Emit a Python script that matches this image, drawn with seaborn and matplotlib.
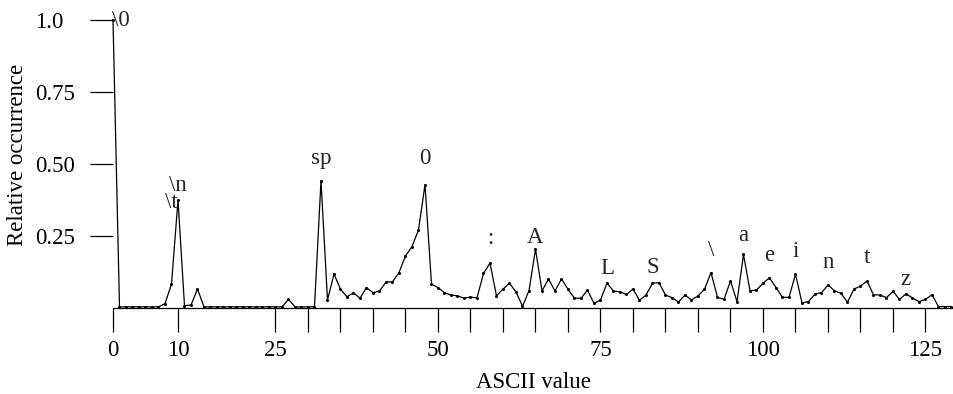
import matplotlib
matplotlib.use("Agg")
import matplotlib.pyplot as plt
import seaborn as sns
import pandas as pd

# ---- data -------------------------------------------------------------
ascii_codes = list(range(130))
rel_occurrence = [
    1.000, 0.004, 0.004, 0.004, 0.004, 0.004, 0.004, 0.004, 0.015, 0.083,  # 0-9
    0.375, 0.008, 0.010, 0.066, 0.004, 0.004, 0.004, 0.004, 0.004, 0.004,  # 10-19
    0.004, 0.004, 0.004, 0.004, 0.004, 0.004, 0.004, 0.030, 0.004, 0.004,  # 20-29
    0.004, 0.004, 0.442, 0.028, 0.118, 0.065, 0.039, 0.053, 0.034, 0.071,  # 30-39
    0.053, 0.059, 0.090, 0.091, 0.123, 0.181, 0.213, 0.271, 0.428, 0.083,  # 40-49
    0.071, 0.053, 0.045, 0.042, 0.034, 0.038, 0.035, 0.120, 0.156, 0.042,  # 50-59
    0.066, 0.086, 0.056, 0.006, 0.060, 0.204, 0.059, 0.101, 0.059, 0.101,  # 60-69
    0.065, 0.034, 0.034, 0.062, 0.016, 0.028, 0.086, 0.059, 0.056, 0.047,  # 70-79
    0.066, 0.027, 0.045, 0.086, 0.088, 0.045, 0.036, 0.021, 0.045, 0.028,  # 80-89
    0.042, 0.065, 0.123, 0.037, 0.030, 0.094, 0.022, 0.186, 0.060, 0.062,  # 90-99
    0.086, 0.105, 0.071, 0.037, 0.037, 0.117, 0.018, 0.022, 0.049, 0.053,  # 100-109
    0.080, 0.060, 0.051, 0.020, 0.066, 0.076, 0.093, 0.046, 0.045, 0.036,  # 110-119
    0.058, 0.030, 0.049, 0.035, 0.022, 0.030, 0.046, 0.005, 0.005, 0.005,  # 120-129
]

peak_labels = [r"\0", r"\t", r"\n", "sp", "0", ":", "A", "L", "S", "\\",
               "a", "e", "i", "n", "t", "z"]
peak_x = [0, 9, 10, 32, 48, 58, 65, 76, 83, 92, 97, 101, 105, 110, 116, 122]
peak_label_y = [0.98, 0.346, 0.407, 0.50, 0.50, 0.222, 0.225, 0.118, 0.123,
                0.18, 0.234, 0.164, 0.176, 0.138, 0.155, 0.080]

x_ticks = [0, 10, 25, 30, 35, 40, 45, 50, 55, 60, 65, 70, 75, 80, 85, 90,
           95, 100, 105, 110, 115, 120, 125]
x_tick_labels = {0: "0", 10: "10", 25: "25", 50: "50", 75: "75",
                 100: "100", 125: "125"}
y_ticks = [0.25, 0.50, 0.75, 1.0]
y_tick_labels = ["0.25", "0.50", "0.75", "1.0"]

df = pd.DataFrame({"ASCII value": ascii_codes,
                   "Relative occurrence": rel_occurrence})

# ---- style ------------------------------------------------------------
sns.set_theme(style="white")
plt.rcParams["font.family"] = ["Liberation Serif", "DejaVu Serif"]
FS = 16.5

W, H = 954, 394
fig = plt.figure(figsize=(W / 100, H / 100), dpi=100)
ax_left, ax_right, ax_bottom_px, ax_top_px = 113, 954, 308, 10
ax = fig.add_axes([ax_left / W, (H - ax_bottom_px) / H,
                   (ax_right - ax_left) / W, (ax_bottom_px - ax_top_px) / H])

sns.lineplot(data=df, x="ASCII value", y="Relative occurrence", ax=ax,
             color="black", linewidth=0.9, marker="o", markersize=2.2,
             markeredgewidth=0, clip_on=False)

ax.set_xlim(0, (ax_right - ax_left) / 6.5)
ax.set_ylim(0, (ax_bottom_px - ax_top_px) / 288.0)

for s in ("top", "right", "left"):
    ax.spines[s].set_visible(False)
ax.spines["bottom"].set_color("black")
ax.spines["bottom"].set_linewidth(0.9)

ax.set_xticks(x_ticks)
ax.set_xticklabels([x_tick_labels.get(t, "") for t in x_ticks], fontsize=FS)
ax.set_yticks(y_ticks)
ax.set_yticklabels(y_tick_labels, fontsize=FS)
ax.tick_params(axis="x", bottom=True, direction="out", length=17.3,
               width=0.9, color="black", pad=6, labelcolor="black")
ax.tick_params(axis="y", left=True, direction="out", length=16.6,
               width=0.9, color="black", pad=39.5, labelcolor="black")
for lab in ax.get_yticklabels():
    lab.set_horizontalalignment("left")

ax.set_xlabel("ASCII value", fontsize=FS, color="black")
ax.set_ylabel("Relative occurrence", fontsize=FS, color="black")
ax.xaxis.set_label_coords(0.5, (308 - 382) / 298.0)
ax.xaxis.label.set_verticalalignment("center")
ax.yaxis.set_label_coords((18 - 113) / 841.0, (308 - 155) / 298.0)
ax.yaxis.label.set_verticalalignment("center")

for lab, xv, yv in zip(peak_labels, peak_x, peak_label_y):
    if lab == r"\0":
        ax.text(xv - 0.2, yv, lab, fontsize=FS, ha="left", va="baseline",
                clip_on=False)
    else:
        ax.text(xv, yv, lab, fontsize=FS, ha="center", va="baseline",
                clip_on=False)

ax.grid(False)
fig.savefig("out.png", dpi=100)
